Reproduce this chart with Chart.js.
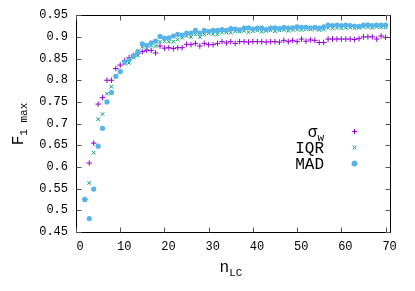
<!DOCTYPE html>
<html>
<head>
<meta charset="utf-8">
<script src="https://cdn.jsdelivr.net/npm/chart.js@4"></script>
<style>
  html, body { margin: 0; padding: 0; background: #fff; }
  #wrap { width: 415px; height: 291px; }
</style>
</head>
<body>
<div id="wrap"><canvas id="chart" width="415" height="291"></canvas></div>
<script>
// number of light curves
const nLC = [2, 3, 4, 5, 6, 7, 8, 9, 10, 11,
    12, 13, 14, 15, 16, 17, 18, 19, 20, 21,
    22, 23, 24, 25, 26, 27, 28, 29, 30, 31,
    32, 33, 34, 35, 36, 37, 38, 39, 40, 41,
    42, 43, 44, 45, 46, 47, 48, 49, 50, 51,
    52, 53, 54, 55, 56, 57, 58, 59, 60, 61,
    62, 63, 64, 65, 66, 67, 68, 69, 70];

const sigmaW = [0.525, 0.609, 0.655, 0.745, 0.760, 0.800, 0.800, 0.827, 0.835, 0.845,
    0.852, 0.857, 0.862, 0.866, 0.869, 0.869, 0.863, 0.879, 0.874, 0.875,
    0.873, 0.875, 0.875, 0.883, 0.882, 0.885, 0.879, 0.885, 0.882, 0.882,
    0.885, 0.889, 0.886, 0.889, 0.885, 0.889, 0.889, 0.888, 0.889, 0.889,
    0.889, 0.888, 0.889, 0.889, 0.888, 0.892, 0.889, 0.892, 0.889, 0.895,
    0.890, 0.893, 0.892, 0.887, 0.887, 0.895, 0.895, 0.895, 0.895, 0.895,
    0.895, 0.894, 0.896, 0.900, 0.900, 0.900, 0.895, 0.902, 0.899];

const iqr = [0.525, 0.563, 0.633, 0.710, 0.722, 0.769, 0.785, 0.810, 0.820, 0.838,
    0.840, 0.852, 0.857, 0.877, 0.874, 0.880, 0.879, 0.889, 0.890, 0.889,
    0.889, 0.894, 0.898, 0.902, 0.900, 0.906, 0.900, 0.906, 0.908, 0.906,
    0.906, 0.910, 0.910, 0.910, 0.913, 0.912, 0.914, 0.911, 0.913, 0.915,
    0.912, 0.914, 0.915, 0.913, 0.915, 0.916, 0.914, 0.916, 0.917, 0.916,
    0.918, 0.917, 0.918, 0.916, 0.917, 0.921, 0.920, 0.921, 0.920, 0.921,
    0.922, 0.920, 0.921, 0.923, 0.922, 0.921, 0.923, 0.922, 0.922];

const mad = [0.525, 0.481, 0.549, 0.648, 0.689, 0.750, 0.772, 0.809, 0.820, 0.842,
    0.847, 0.856, 0.866, 0.884, 0.880, 0.886, 0.890, 0.901, 0.897, 0.898,
    0.902, 0.906, 0.904, 0.909, 0.909, 0.915, 0.909, 0.915, 0.913, 0.915,
    0.915, 0.917, 0.915, 0.919, 0.918, 0.916, 0.920, 0.921, 0.918, 0.920,
    0.921, 0.917, 0.920, 0.921, 0.919, 0.922, 0.920, 0.921, 0.923, 0.922,
    0.922, 0.921, 0.922, 0.920, 0.923, 0.927, 0.926, 0.927, 0.926, 0.927,
    0.926, 0.925, 0.924, 0.927, 0.928, 0.926, 0.927, 0.927, 0.927];

const xTicks = [0, 10, 20, 30, 40, 50, 60, 70];
const yTicks = [0.45, 0.5, 0.55, 0.6, 0.65, 0.7, 0.75, 0.8, 0.85, 0.9, 0.95];

const FONT = '"Liberation Mono", "DejaVu Sans Mono", monospace';
const colSigma = '#9400d3';
const colIqr = '#009e73';
const colMad = '#56b4e9';

function toPoints(ys) {
    return nLC.map((n, i) => ({ x: n, y: ys[i] }));
}

// legend entries: main text, subscript, colour, point style
const legendItems = [
    { main: 'σ', sub: 'w', color: colSigma, style: 'cross' },
    { main: 'IQR', sub: '', color: colIqr, style: 'crossRot' },
    { main: 'MAD', sub: '', color: colMad, style: 'circle' }
];

function textWithSub(ctx, main, sub, x, y, mainSize, subSize, align) {
    ctx.font = mainSize + 'px ' + FONT;
    const wMain = ctx.measureText(main).width;
    ctx.font = subSize + 'px ' + FONT;
    const wSub = sub ? ctx.measureText(sub).width : 0;
    let start = x;
    if (align === 'right') start = x - wMain - wSub;
    else if (align === 'center') start = x - (wMain + wSub) / 2;
    ctx.textAlign = 'left';
    ctx.textBaseline = 'alphabetic';
    ctx.font = mainSize + 'px ' + FONT;
    ctx.fillText(main, start, y);
    if (sub) {
        ctx.font = subSize + 'px ' + FONT;
        ctx.fillText(sub, start + wMain, y + 4);
    }
}

const framePlugin = {
    id: 'frame',
    afterDraw(chart) {
        const ctx = chart.ctx;
        const a = chart.chartArea;
        const xs = chart.scales.x;
        const ys = chart.scales.y;
        ctx.save();
        ctx.strokeStyle = '#000';
        ctx.lineWidth = 1;
        const L = Math.round(a.left) + 0.5, R = Math.round(a.right) + 0.5;
        const T = Math.round(a.top) + 0.5, B = Math.round(a.bottom) + 0.5;
        ctx.strokeRect(L, T, R - L, B - T);
        ctx.strokeStyle = '#555';
        ctx.beginPath();
        xTicks.forEach(v => {
            const px = Math.round(xs.getPixelForValue(v)) + 0.5;
            ctx.moveTo(px, B); ctx.lineTo(px, B - 5);
            ctx.moveTo(px, T); ctx.lineTo(px, T + 5);
        });
        yTicks.forEach(v => {
            const py = Math.round(ys.getPixelForValue(v)) + 0.5;
            ctx.moveTo(L, py); ctx.lineTo(L + 5, py);
            ctx.moveTo(R, py); ctx.lineTo(R - 5, py);
        });
        ctx.stroke();

        // axis titles
        ctx.fillStyle = '#000';
        textWithSub(ctx, 'n', 'LC', 231, 272, 16, 11, 'center');
        ctx.save();
        ctx.translate(23, 124);
        ctx.rotate(-Math.PI / 2);
        textWithSub(ctx, 'F', '1 max', 0, 0, 16, 11, 'center');
        ctx.restore();

        // key
        const rows = [131.5, 147.5, 163.5];
        legendItems.forEach((it, i) => {
            ctx.fillStyle = '#000';
            textWithSub(ctx, it.main, it.sub, 324, rows[i] + 5, 16, 11, 'right');
            ctx.strokeStyle = it.color;
            ctx.fillStyle = it.color;
            Chart.helpers.drawPoint(ctx, { pointStyle: it.style, radius: 2.6, borderWidth: 1 }, 354.5, rows[i]);
        });
        ctx.restore();
    }
};

const ctx = document.getElementById('chart').getContext('2d');
new Chart(ctx, {
    type: 'scatter',
    data: {
        datasets: [
            {
                label: 'MAD', data: toPoints(mad), order: 0,
                pointStyle: 'circle', radius: 2.6, borderWidth: 0,
                backgroundColor: colMad, borderColor: colMad
            },
            {
                label: 'IQR', data: toPoints(iqr), order: 1,
                pointStyle: 'crossRot', radius: 2.6, borderWidth: 1,
                backgroundColor: colIqr, borderColor: colIqr
            },
            {
                label: 'σw', data: toPoints(sigmaW), order: 2,
                pointStyle: 'cross', radius: 2.8, borderWidth: 1,
                backgroundColor: colSigma, borderColor: colSigma
            }
        ]
    },
    options: {
        responsive: false,
        animation: false,
        devicePixelRatio: 1,
        layout: { padding: { top: 14, right: 25, left: 0, bottom: 0 } },
        plugins: {
            legend: { display: false },
            tooltip: { enabled: false }
        },
        scales: {
            x: {
                type: 'linear',
                min: 0, max: 71,
                afterBuildTicks: s => { s.ticks = xTicks.map(v => ({ value: v })); },
                afterFit: s => { s.height = 59; },
                grid: { display: false, drawTicks: false },
                border: { display: false },
                ticks: { color: '#000', padding: 8, labelOffset: 4, font: { family: FONT, size: 12 }, maxRotation: 0 }
            },
            y: {
                type: 'linear',
                min: 0.45, max: 0.95,
                afterBuildTicks: s => { s.ticks = yTicks.map(v => ({ value: v })); },
                afterFit: s => { s.width = 76; },
                grid: { display: false, drawTicks: false },
                border: { display: false },
                ticks: {
                    color: '#000', padding: 8, font: { family: FONT, size: 12 },
                    callback: v => String(parseFloat(v.toFixed(2)))
                }
            }
        }
    },
    plugins: [framePlugin]
});
</script>
</body>
</html>
